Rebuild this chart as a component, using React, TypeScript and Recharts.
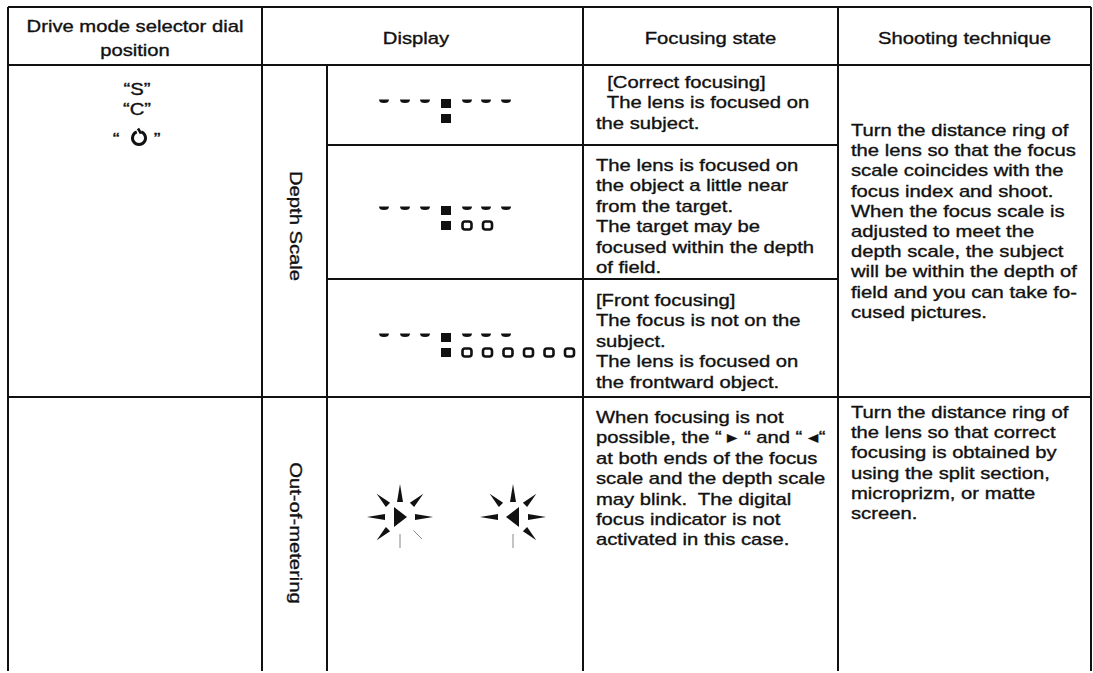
import { ComposedChart, XAxis, YAxis, ReferenceLine, Customized } from 'recharts';

const W = 1093;
const H = 673;

// table content
const HEADERS = [['Drive mode selector dial', 'position'], ['Display'], ['Focusing state'], ['Shooting technique']];
const DIAL_POSITIONS = ['“S”', '“C”', 'timer'];
const GROUP_LABELS = ['Depth Scale', 'Out-of-metering'];
const DEPTH_RINGS = [0, 2, 6];
const BLINK_ARROWS = ['right', 'left'];
const FOCUS_TEXT = [
  ['  [Correct focusing]', '  The lens is focused on', 'the subject.'],
  ['The lens is focused on', 'the object a little near', 'from the target.', 'The target may be', 'focused within the depth', 'of field.'],
  ['[Front focusing]', 'The focus is not on the', 'subject.', 'The lens is focused on', 'the frontward object.'],
  ['When focusing is not', 'possible, the “ ▸ “ and “ ◂“', 'at both ends of the focus', 'scale and the depth scale', 'may blink.  The digital', 'focus indicator is not', 'activated in this case.'],
];
const TECHNIQUE_TEXT = [
  ['Turn the distance ring of', 'the lens so that the focus', 'scale coincides with the', 'focus index and shoot.', 'When the focus scale is', 'adjusted to meet the', 'depth scale, the subject', 'will be within the depth of', 'field and you can take fo-', 'cused pictures.'],
  ['Turn the distance ring of', 'the lens so that correct', 'focusing is obtained by', 'using the split section,', 'microprizm, or matte', 'screen.'],
];

// layout
const XL = 8, XD = 262, XS = 327, XF = 583, XT = 838, XR = 1091;
const YT = 7, YH = 65, Y1 = 145, Y2 = 279, Y3 = 397, YB = 671;
const INK = '#111';
const FONT = '"Liberation Sans", Arial, Helvetica, sans-serif';
const SX = 1.19;

const GRID: [number, number, number, number][] = [
  [XL, YT, XR, YT],
  [XL, YH, XR, YH],
  [XS, Y1, XT, Y1],
  [XS, Y2, XT, Y2],
  [XL, Y3, XR, Y3],
  [XL, YT, XL, YB],
  [XD, YT, XD, YB],
  [XS, YH, XS, YB],
  [XF, YT, XF, YB],
  [XT, YT, XT, YB],
  [XR, YT, XR, YB],
];

function T({ x, y, text, anchor = 'start', rot = 0 }: { x: number; y: number; text: string; anchor?: string; rot?: number }) {
  return (
    <text
      transform={`translate(${x},${y}) rotate(${rot}) scale(${SX},1)`}
      textAnchor={anchor}
      dominantBaseline={rot ? 'central' : 'alphabetic'}
      fontSize={17}
      fontFamily={FONT}
      fill={INK}
      stroke={INK}
      strokeWidth={0.35}
      style={{ whiteSpace: 'pre' }}
    >
      {text}
    </text>
  );
}

function Dash({ x, y }: { x: number; y: number }) {
  return <path d={`M${x - 5},${y - 1.5} h10 q0,3.5 -5,3.5 q-5,0 -5,-3.5 z`} fill={INK} />;
}

function DepthGlyph({ top, rings }: { top: number; rings: number }) {
  const cx = 446;
  const dashes = [-62, -41, -21, 21, 40, 60];
  return (
    <g>
      {dashes.map((d) => <Dash key={d} x={cx + d} y={top + 2} />)}
      <rect x={cx - 5} y={top} width={10} height={9} fill={INK} />
      <rect x={cx - 5} y={top + 15} width={10} height={9} fill={INK} />
      {Array.from({ length: rings }).map((_, i) => (
        <rect key={i} x={467 + 20.5 * i - 4.5} y={top + 15.5} width={9} height={8} rx={2.5} fill="none" stroke={INK} strokeWidth={2.6} />
      ))}
    </g>
  );
}

function Blink({ cx, cy, dir }: { cx: number; cy: number; dir: string }) {
  const rays = [0, 45, 90, 135, 180, 225, 270, 315];
  const faint = dir === 'right' ? [90, 45] : [90, 135];
  const tri = dir === 'right'
    ? `M${cx - 6},${cy - 10} L${cx + 7},${cy} L${cx - 6},${cy + 10} Z`
    : `M${cx + 6},${cy - 10} L${cx - 7},${cy} L${cx + 6},${cy + 10} Z`;
  return (
    <g>
      <path d={tri} fill={INK} />
      {rays.map((a) => {
        const r = (a * Math.PI) / 180;
        const ux = Math.cos(r), uy = Math.sin(r);
        const px = -uy, py = ux;
        const diag = a % 90 !== 0;
        const r0 = diag ? 17 : 15;
        const r1 = 33;
        if (faint.includes(a)) {
          if (dir === 'left' && a === 135) return null;
          return (
            <line key={a} x1={cx + ux * (r0 + 2)} y1={cy + uy * (r0 + 2)} x2={cx + ux * (r1 - 2)} y2={cy + uy * (r1 - 2)} stroke="#888" strokeWidth={1} />
          );
        }
        const w = 3;
        return (
          <path
            key={a}
            d={`M${cx + ux * r0 + px * w},${cy + uy * r0 + py * w} L${cx + ux * r1},${cy + uy * r1} L${cx + ux * r0 - px * w},${cy + uy * r0 - py * w} Z`}
            fill={INK}
          />
        );
      })}
    </g>
  );
}

function Timer({ cx, cy }: { cx: number; cy: number }) {
  const r = 6.5;
  const a0 = (-70 * Math.PI) / 180;
  const a1 = (-110 * Math.PI) / 180;
  return (
    <g>
      <path
        d={`M${cx + r * Math.cos(a0)},${cy + r * Math.sin(a0)} A${r},${r} 0 1 1 ${cx + r * Math.cos(a1)},${cy + r * Math.sin(a1)}`}
        fill="none"
        stroke={INK}
        strokeWidth={3}
      />
      <line x1={cx - 1} y1={cy - r - 3} x2={cx + 2} y2={cy - r + 2} stroke={INK} strokeWidth={2.6} />
    </g>
  );
}

function Overlay() {
  const headX = [(XL + XD) / 2, 416, (XF + XT) / 2, (XT + XR) / 2];
  const focusStart = [88, 171, 306, 423];
  const techStart = [136, 418];
  return (
    <g>
      {HEADERS.map((lines, i) =>
        lines.map((s, j) => (
          <T key={`h${i}${j}`} x={headX[i]} y={lines.length > 1 ? 31.5 + j * 24.5 : 44} text={s} anchor="middle" />
        )),
      )}
      {DIAL_POSITIONS.map((s, i) =>
        s === 'timer' ? (
          <g key={s}>
            <T x={116} y={145} text="“" anchor="middle" />
            <Timer cx={139} cy={138} />
            <T x={157} y={145} text="”" anchor="middle" />
          </g>
        ) : (
          <T key={s} x={137} y={95 + i * 20} text={s} anchor="middle" />
        ),
      )}
      <T x={296} y={226} text={GROUP_LABELS[0]} anchor="middle" rot={90} />
      <T x={296} y={533} text={GROUP_LABELS[1]} anchor="middle" rot={90} />
      {DEPTH_RINGS.map((n, i) => (
        <DepthGlyph key={i} top={[99, 206, 333][i]} rings={n} />
      ))}
      {BLINK_ARROWS.map((d, i) => (
        <Blink key={d} cx={[400, 513][i]} cy={517} dir={d} />
      ))}
      {FOCUS_TEXT.map((lines, i) =>
        lines.map((s, j) => <T key={`f${i}${j}`} x={596} y={focusStart[i] + j * 20.4} text={s} />),
      )}
      {TECHNIQUE_TEXT.map((lines, i) =>
        lines.map((s, j) => <T key={`t${i}${j}`} x={851} y={techStart[i] + j * 20.2} text={s} />),
      )}
    </g>
  );
}

const FRAME = [{ x: 0, y: 0 }, { x: W, y: H }];

export default function App() {
  return (
    <div style={{ position: 'absolute', left: 0, top: 0, background: '#fff' }}>
      <ComposedChart width={W} height={H} data={FRAME} margin={{ top: 0, right: 0, bottom: 0, left: 0 }}>
        <XAxis dataKey="x" type="number" domain={[0, W]} hide allowDataOverflow />
        <YAxis type="number" domain={[0, H]} reversed hide width={0} allowDataOverflow />
        {GRID.map(([x1, y1, x2, y2], i) => (
          <ReferenceLine
            key={i}
            segment={[{ x: x1, y: y1 }, { x: x2, y: y2 }]}
            stroke={INK}
            strokeWidth={2}
            ifOverflow="visible"
          />
        ))}
        <Customized component={Overlay} />
      </ComposedChart>
    </div>
  );
}
